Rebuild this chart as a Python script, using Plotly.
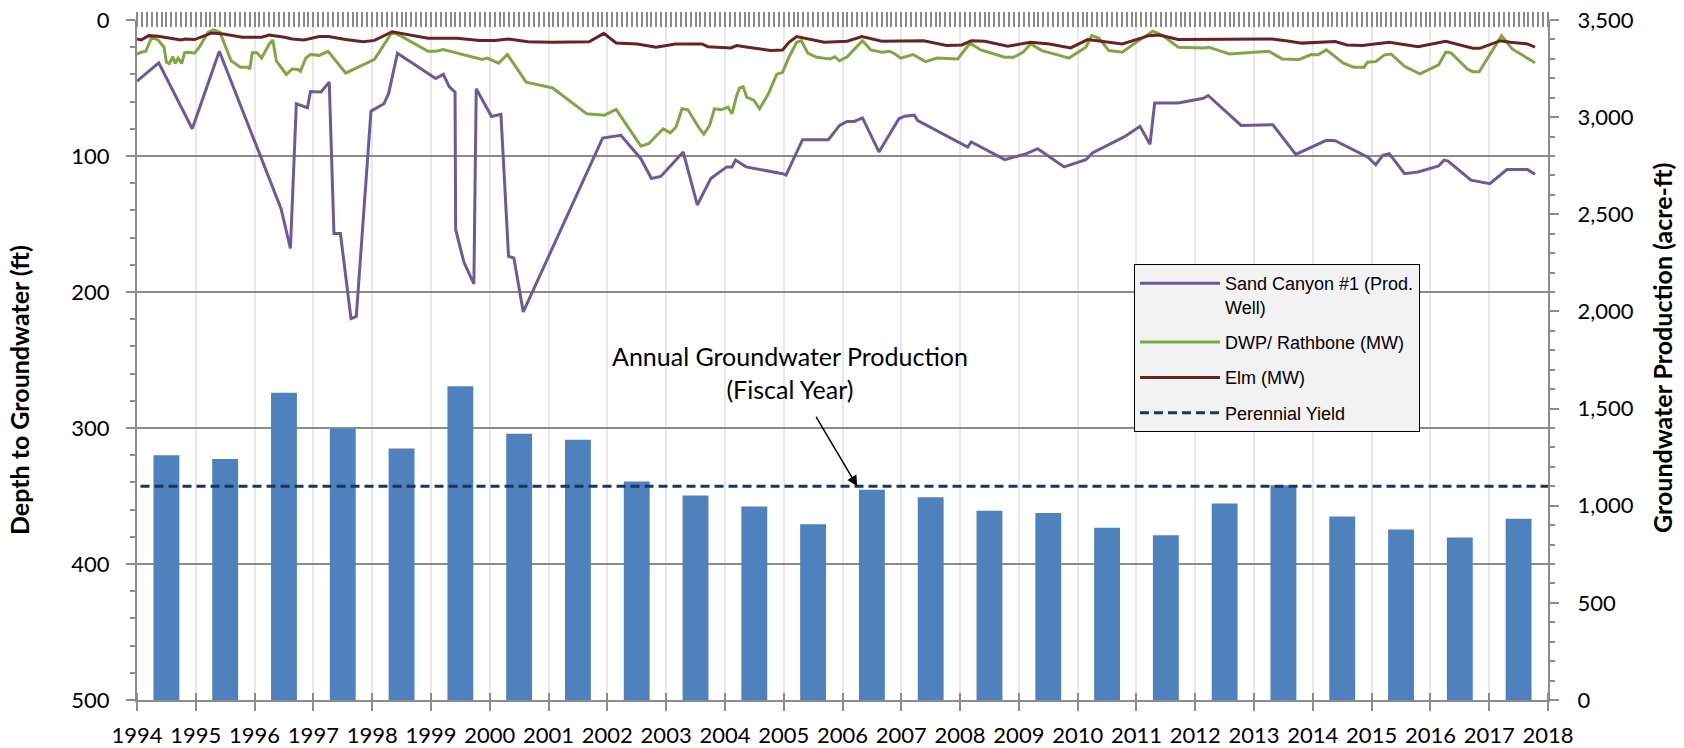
import plotly.graph_objects as go

# ---------------- data ----------------
fiscal_years = list(range(1994, 2018))
production_acft = [1260, 1240, 1581, 1397, 1294, 1615, 1370, 1339, 1125, 1053, 996, 904,
                   1082, 1043, 974, 962, 887, 848, 1012, 1105, 945, 877, 837, 933]
perennial_yield = 1100
year_ticks = list(range(1994, 2019))

sand_t = [1994.00, 1994.37, 1994.94, 1995.40, 1996.45, 1996.61, 1996.71, 1996.90, 1996.95, 1997.13,
          1997.27, 1997.35, 1997.46, 1997.64, 1997.73, 1997.98, 1998.20, 1998.28, 1998.43, 1999.08,
          1999.21, 1999.31, 1999.41, 1999.42, 1999.56, 1999.73, 1999.77, 2000.03, 2000.19, 2000.32,
          2000.41, 2000.57, 2001.92, 2002.23, 2002.57, 2002.75, 2002.91, 2003.29, 2003.53, 2003.76,
          2004.03, 2004.12, 2004.18, 2004.36, 2004.98, 2005.04, 2005.32, 2005.76, 2005.95, 2006.08,
          2006.20, 2006.34, 2006.62, 2006.96, 2007.06, 2007.22, 2007.28, 2008.13, 2008.19, 2008.76,
          2009.13, 2009.32, 2009.77, 2010.14, 2010.25, 2010.79, 2011.06, 2011.23, 2011.31, 2011.71,
          2012.14, 2012.22, 2012.78, 2013.32, 2013.71, 2014.23, 2014.38, 2014.93, 2015.07, 2015.19,
          2015.30, 2015.56, 2015.79, 2016.14, 2016.23, 2016.30, 2016.69, 2017.01, 2017.19, 2017.30,
          2017.65, 2017.78]
sand_depth = [45, 31.5, 80, 23, 138.7, 168, 61.6, 64.5, 52.6, 53,
              45.7, 157, 157, 219.6, 218, 67, 61.6, 54, 24.4, 43,
              40, 49, 53, 154, 178, 194, 50.6, 71, 69.4, 173.8,
              175, 214.7, 86.8, 84.8, 102, 116.6, 115, 97, 136, 116.6,
              108, 108, 103, 108, 113, 114, 88, 88, 77.5, 74.6,
              74.6, 72, 97, 72.6, 70.7, 70, 74, 93.4, 89.7, 102.7,
              98.3, 94.6, 108, 102.7, 97.8, 86, 78.2, 91.4, 61, 61,
              57.5, 55.5, 77.5, 77, 98.8, 88.5, 88.7, 100.7, 106.4, 99.5,
              98.3, 113, 111.7, 107.3, 103, 103.7, 117.8, 120.3, 114, 110,
              110, 113.4]

dwp_t = [1994.00, 1994.07, 1994.15, 1994.25, 1994.36, 1994.46, 1994.50, 1994.55, 1994.61, 1994.65,
         1994.70, 1994.76, 1994.81, 1994.88, 1994.98, 1995.06, 1995.21, 1995.30, 1995.41, 1995.60,
         1995.76, 1995.89, 1995.92, 1995.96, 1996.04, 1996.12, 1996.25, 1996.31, 1996.37, 1996.54,
         1996.64, 1996.74, 1996.78, 1996.87, 1996.95, 1997.10, 1997.25, 1997.55, 1998.04, 1998.34,
         1998.50, 1998.95, 1999.08, 1999.21, 1999.87, 1999.96, 2000.15, 2000.30, 2000.62, 2001.07,
         2001.65, 2001.79, 2001.95, 2002.15, 2002.57, 2002.70, 2002.95, 2003.07, 2003.17, 2003.27,
         2003.37, 2003.55, 2003.64, 2003.74, 2003.82, 2003.94, 2004.05, 2004.12, 2004.20, 2004.25,
         2004.31, 2004.37, 2004.49, 2004.59, 2004.74, 2004.88, 2004.98, 2005.09, 2005.22, 2005.30,
         2005.41, 2005.56, 2005.79, 2005.87, 2005.95, 2006.08, 2006.34, 2006.48, 2006.67, 2006.80,
         2006.89, 2006.99, 2007.20, 2007.41, 2007.61, 2007.96, 2008.17, 2008.35, 2008.76, 2008.91,
         2009.07, 2009.20, 2009.39, 2009.69, 2009.85, 2010.14, 2010.24, 2010.36, 2010.53, 2010.76,
         2010.94, 2011.28, 2011.45, 2011.71, 2012.14, 2012.23, 2012.58, 2013.25, 2013.48, 2013.77,
         2013.97, 2014.09, 2014.23, 2014.52, 2014.69, 2014.87, 2014.93, 2015.07, 2015.22, 2015.33,
         2015.56, 2015.82, 2016.14, 2016.26, 2016.35, 2016.63, 2016.72, 2016.83, 2017.21, 2017.39,
         2017.78]
dwp_depth = [25, 23.7, 23, 12.7, 14.7, 20, 31, 32, 27, 32,
             28, 32, 24, 23.7, 24.4, 20, 9, 7.3, 9, 30,
             34.7, 34.7, 36, 24, 24, 28, 17.6, 14.7, 30, 40,
             36, 36.4, 37.7, 28, 25.4, 26, 23, 39, 29, 9,
             12, 23, 23, 21.8, 29, 28, 31.8, 25.4, 45.7, 50,
             69, 69.4, 70, 65.8, 92.7, 91, 80, 83, 78.7, 65.3,
             66, 78.7, 84, 77.5, 65.3, 66, 64, 69, 55.5, 50,
             49, 56.7, 59, 65.3, 54.3, 40, 38.4, 27.4, 16.4, 15.2,
             24.4, 27.4, 28.6, 27, 30, 27, 15.2, 22, 23.7, 23,
             25, 28, 25.4, 30.6, 28, 28.6, 17, 22, 27.4, 27.4,
             23.7, 17.6, 22.5, 26, 28, 20, 11.5, 13.2, 22.5, 23.7,
             18, 8.3, 11.5, 20, 20.5, 20, 25, 23, 28.6, 29,
             25.4, 25.6, 22, 31.8, 34.7, 34.7, 31, 30.6, 25.6, 25,
             34, 39.6, 33, 23.7, 24.2, 36, 38, 38, 11.5, 21.3,
             31.5]

elm_t = [1994.00, 1994.07, 1994.20, 1994.36, 1994.75, 1994.81, 1994.98, 1995.14, 1995.27, 1995.47,
         1995.79, 1996.12, 1996.25, 1996.51, 1996.64, 1996.84, 1997.10, 1997.26, 1997.55, 1997.85,
         1998.04, 1998.34, 1998.95, 1999.44, 1999.83, 2000.09, 2000.32, 2000.65, 2001.04, 2001.69,
         2001.94, 2002.15, 2002.51, 2002.83, 2003.16, 2003.61, 2003.71, 2004.10, 2004.20, 2004.39,
         2004.78, 2004.98, 2005.09, 2005.22, 2005.69, 2006.08, 2006.33, 2006.67, 2007.38, 2007.77,
         2008.03, 2008.19, 2008.42, 2008.81, 2009.07, 2009.20, 2009.52, 2009.88, 2010.17, 2010.76,
         2011.21, 2011.39, 2011.71, 2012.84, 2013.30, 2013.54, 2013.82, 2014.38, 2014.58, 2014.84,
         2015.30, 2015.79, 2016.26, 2016.72, 2016.84, 2017.19, 2017.36, 2017.65, 2017.78]
elm_depth = [14, 14.7, 11.5, 12, 14.7, 14, 14.4, 12, 9.5, 10.3,
             12.7, 12.7, 11, 12.7, 14, 14.7, 12.2, 12.2, 14.4, 16,
             15, 8.6, 13.4, 13.4, 15, 15, 14, 16, 16.4, 16,
             9.8, 16.9, 17.6, 20, 17.6, 17.6, 19.6, 20.5, 18.8, 20,
             22.5, 22, 16.4, 12.2, 16.4, 15.6, 12.2, 15.6, 15.2, 18.8,
             18.3, 15.2, 15.6, 19.3, 17.6, 16.4, 17.6, 20.5, 14.4, 17.6,
             11.5, 11, 14.4, 14.4, 14, 15.2, 17, 15.8, 18.3, 18.8,
             16.4, 19.6, 15.6, 20.8, 20.8, 15.2, 16.4, 17.6, 20]

# ---------------- styling ----------------
GRAY = "#8C8C8C"
TICK_FONT = dict(family="Lato, Open Sans, sans-serif", size=22, color="black")
PLOT_H = 748 - 20 - 48  # plot-area height in px, used to place free axes

fig = go.Figure()

fig.add_trace(go.Scatter(x=sand_t, y=sand_depth, mode="lines", name="Sand Canyon #1 (Prod.<br>Well)",
                         line=dict(color="#6E5A98", width=3), xaxis="x", yaxis="y", legendgroup="a"))
fig.add_trace(go.Scatter(x=dwp_t, y=dwp_depth, mode="lines", name="DWP/ Rathbone (MW)",
                         line=dict(color="#80A646", width=3), xaxis="x", yaxis="y", legendgroup="b"))
fig.add_trace(go.Scatter(x=elm_t, y=elm_depth, mode="lines", name="Elm (MW)",
                         line=dict(color="#6A2222", width=3), xaxis="x3", yaxis="y", legendgroup="c"))
fig.add_trace(go.Bar(x=fiscal_years, y=production_acft, width=0.44, offset=0.28,
                     marker=dict(color="#4F81BD", line=dict(width=0)), showlegend=False,
                     xaxis="x", yaxis="y2"))
fig.add_trace(go.Scatter(x=[1994.06, 2018], y=[perennial_yield, perennial_yield], mode="lines",
                         name="Perennial Yield", line=dict(color="#1B365F", width=3, dash="9px,5px"),
                         xaxis="x2", yaxis="y2", legendgroup="d"))

common_x = dict(range=[1994, 2018], domain=[0, 1], zeroline=False, automargin=False)

fig.update_layout(
    template="none",
    width=1684, height=748, autosize=False,
    margin=dict(l=137, r=136, t=20, b=48, pad=0),
    paper_bgcolor="white", plot_bgcolor="white",
    showlegend=True,
    font=dict(family="Lato, sans-serif", color="black"),
    # bottom year axis with labels (ticks below the line)
    xaxis=dict(**common_x, anchor="y", tickmode="array", tickvals=year_ticks,
               ticktext=[str(y) for y in year_ticks], ticks="outside", ticklen=9, tickwidth=1.5,
               tickcolor=GRAY, showline=True, linecolor=GRAY, linewidth=2,
               showgrid=True, gridcolor="#E8E8E8", gridwidth=1.5,
               tickfont=TICK_FONT, ticklabelstandoff=6),
    # top monthly tick band, crossing the top edge
    xaxis2=dict(**common_x, overlaying="x", side="top", anchor="free",
                position=1 - 6.5 / PLOT_H, tickmode="linear", tick0=1994, dtick=1 / 12,
                ticks="outside", ticklen=14.5, tickwidth=2, tickcolor="#8A8A8A",
                showticklabels=False, showgrid=False, showline=False),
    # upper part of the crossing year ticks at the bottom
    xaxis3=dict(**common_x, overlaying="x", side="bottom", anchor="free",
                position=8.5 / PLOT_H, tickmode="array", tickvals=year_ticks,
                ticks="outside", ticklen=8.5, tickwidth=1.5, tickcolor=GRAY,
                showticklabels=False, showgrid=False, showline=False),
    yaxis=dict(range=[500, 0], tick0=0, dtick=100, ticks="outside", ticklen=9, tickwidth=1.5,
               tickcolor=GRAY, minor=dict(dtick=20, ticks="outside", ticklen=5, tickwidth=1.5,
                                          tickcolor=GRAY, showgrid=False),
               showgrid=True, gridcolor=GRAY, gridwidth=1.5, showline=True, linecolor=GRAY,
               linewidth=2, zeroline=False, automargin=False, tickfont=TICK_FONT,
               ticklabelstandoff=12),
    yaxis2=dict(range=[0, 3500], tick0=0, dtick=500, overlaying="y", side="right", anchor="x",
                tickformat=",", ticks="outside", ticklen=9, tickwidth=1.5, tickcolor=GRAY,
                minor=dict(dtick=100, ticks="outside", ticklen=5, tickwidth=1.5, tickcolor=GRAY,
                           showgrid=False),
                showgrid=False, showline=True, linecolor=GRAY, linewidth=2, zeroline=False,
                automargin=False, tickfont=TICK_FONT, ticklabelstandoff=14),
    legend=dict(x=(1134 - 137) / 1411, y=1 - (264 - 20) / PLOT_H, xanchor="left", yanchor="top",
                bgcolor="#F2F2F2", bordercolor="black", borderwidth=1, valign="top", itemwidth=80,
                tracegroupgap=9, traceorder="grouped",
                font=dict(family="Liberation Sans, Arial, sans-serif", size=18, color="black")),
)

fig.add_annotation(text="Annual Groundwater Production<br>(Fiscal Year)", xref="paper", yref="paper",
                   x=0.463, y=0.482, xanchor="center", yanchor="middle", showarrow=False,
                   font=dict(family="Lato, sans-serif", size=25, color="black"))
fig.add_annotation(text="", x=2006.25, y=perennial_yield, xref="x", yref="y2", ax=-42, ay=-71,
                   showarrow=True, arrowhead=2, arrowsize=1.4, arrowwidth=1.5, arrowcolor="black")
fig.add_annotation(text="<b>Depth to Groundwater (ft)</b>", xref="paper", yref="paper",
                   x=(19 - 137) / 1411, y=1 - (390 - 20) / PLOT_H, textangle=-90, showarrow=False,
                   xanchor="center", yanchor="middle",
                   font=dict(family="Lato, sans-serif", size=25, color="black"))
fig.add_annotation(text="<b>Groundwater Production (acre-ft)</b>", xref="paper", yref="paper",
                   x=(1662 - 137) / 1411, y=1 - (348 - 20) / PLOT_H, textangle=-90, showarrow=False,
                   xanchor="center", yanchor="middle",
                   font=dict(family="Lato, sans-serif", size=25, color="black"))

fig.write_html("out.html", config={"displayModeBar": False},
               post_script="document.body.style.margin='0px';")
